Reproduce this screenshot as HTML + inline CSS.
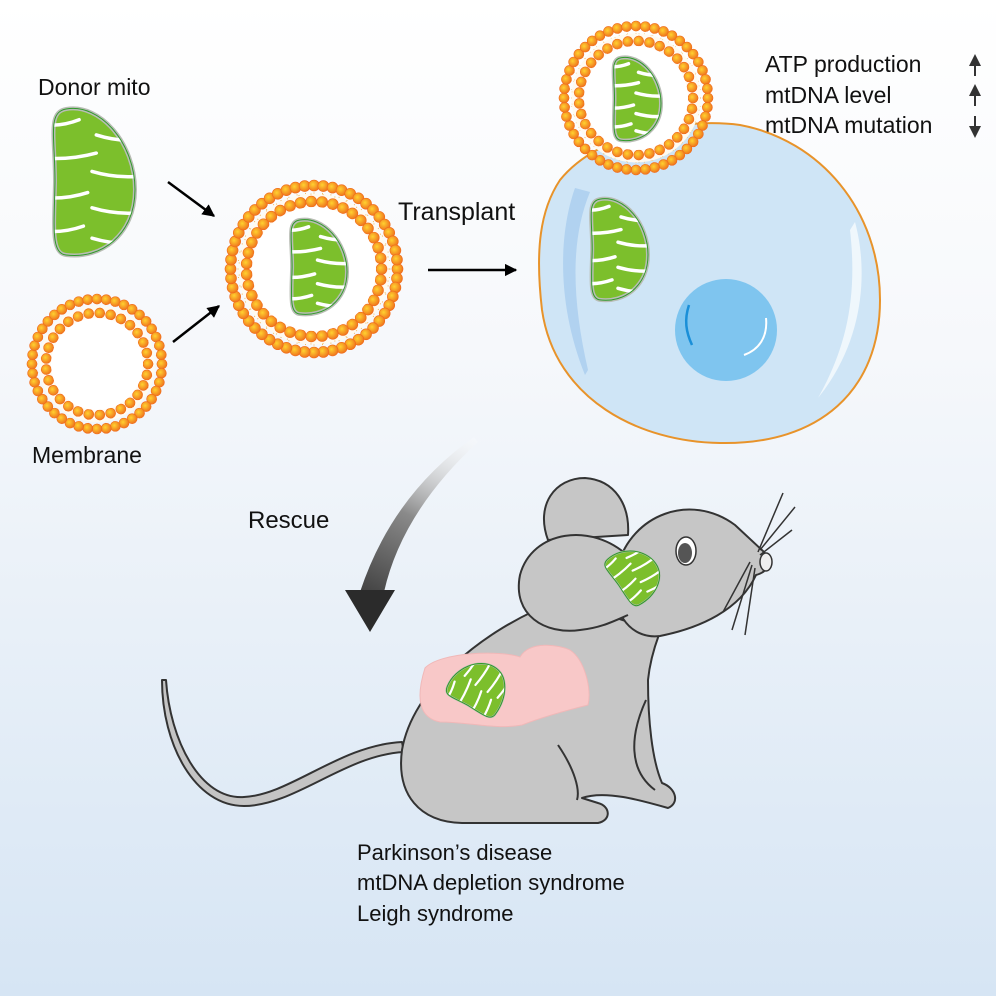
<!DOCTYPE html>
<html><head><meta charset="utf-8"><style>
html,body{margin:0;padding:0;width:996px;height:996px;overflow:hidden}
svg{display:block}
text{font-family:"Liberation Sans",Arial,sans-serif;fill:#111}
</style></head><body>
<svg id="s" width="996" height="996" viewBox="0 0 996 996" xmlns="http://www.w3.org/2000/svg">
<defs id="defs">
<linearGradient id="bg" x1="0" y1="0" x2="0" y2="1">
<stop offset="0" stop-color="#ffffff"/><stop offset="0.35" stop-color="#f6f8fb"/><stop offset="1" stop-color="#d6e5f4"/>
</linearGradient>
<linearGradient id="arr" gradientUnits="userSpaceOnUse" x1="470" y1="436" x2="370" y2="630">
<stop offset="0" stop-color="#ffffff" stop-opacity="0.2"/><stop offset="0.45" stop-color="#8a8a8a"/><stop offset="1" stop-color="#2a2a2a"/>
</linearGradient>
<radialGradient id="bead" cx="0.4" cy="0.4" r="0.6">
<stop offset="0" stop-color="#ffd230"/><stop offset="1" stop-color="#f0771e"/>
</radialGradient>
<marker id="ah" viewBox="0 0 10 10" refX="9" refY="5" markerWidth="5" markerHeight="5" orient="auto"><path d="M0,0 L10,5 L0,10 z" fill="#000"/></marker>
</defs>
<rect width="996" height="996" fill="url(#bg)"/>

<text x="38" y="95" font-size="23">Donor mito</text>
<text x="32" y="463" font-size="23">Membrane</text>
<text x="398" y="220" font-size="25">Transplant</text>
<text x="248" y="528" font-size="24">Rescue</text>
<text x="765" y="72" font-size="23">ATP production</text>
<text x="765" y="103" font-size="23">mtDNA level</text>
<text x="765" y="133" font-size="23">mtDNA mutation</text>
<g fill="#333" stroke="#333">
<line x1="975" y1="62" x2="975" y2="76" stroke-width="2"/><path d="M969,66 L975,54 L981,66 z" stroke="none"/>
<line x1="975" y1="92" x2="975" y2="106" stroke-width="2"/><path d="M969,96 L975,84 L981,96 z" stroke="none"/>
<line x1="975" y1="116" x2="975" y2="130" stroke-width="2"/><path d="M969,126 L975,138 L981,126 z" stroke="none"/>
</g>
<text x="357" y="860" font-size="22">Parkinson’s disease</text>
<text x="357" y="890" font-size="22">mtDNA depletion syndrome</text>
<text x="357" y="921" font-size="22">Leigh syndrome</text>

<g stroke="#000" stroke-width="2.5" marker-end="url(#ah)">
<line x1="168" y1="182" x2="214" y2="216"/>
<line x1="173" y1="342" x2="219" y2="306"/>
<line x1="428" y1="270" x2="516" y2="270"/>
</g>

<path d="M560,180 C600,130 690,118 740,125 C820,140 880,210 880,300 C880,390 820,445 720,443 C640,442 555,400 542,310 C535,250 540,210 560,180 Z" fill="#cfe5f6" stroke="#e8932a" stroke-width="2"/>
<path d="M575,188 C560,230 555,300 585,375 L588,370 C572,300 570,240 590,192 Z" fill="#a9cdef" opacity="0.8"/>
<path d="M855,222 C868,270 865,340 818,398 C845,350 858,300 850,230 Z" fill="#f2f8fd" opacity="0.9"/>
<circle cx="726" cy="330" r="51" fill="#7fc5ef"/>
<path d="M689,305 C684,320 686,332 692,345" stroke="#1a8fd8" stroke-width="2.5" fill="none"/>
<path d="M766,318 C768,338 758,350 744,355" stroke="#fff" stroke-width="2" fill="none"/>

<g id="dyn"></g>

<path d="M474,437 Q392,495 360,592 L384,592 Q402,512 478,442 Z" fill="url(#arr)"/>
<path d="M345,590 L395,590 L370,632 Z" fill="#2b2b2b"/>

<g stroke="#333" stroke-width="2" stroke-linejoin="round">
<path d="M166,680 C170,740 200,800 244,797 C290,795 340,745 402,742 L404,752 C345,755 295,806 244,806 C195,806 162,745 162,680 Z" fill="#c4c4c4"/>
<path d="M560,600 C480,630 412,690 402,750 C396,795 420,822 462,823 L598,823 C612,820 610,806 598,803 L582,798 C605,790 640,800 668,808 C680,803 676,788 662,783 C652,760 648,720 648,680 C650,660 655,645 660,632 Z" fill="#c6c6c6"/>
<path d="M548,540 C535,505 555,478 585,478 C615,480 630,505 628,535 Z" fill="#c6c6c6"/>
<path d="M618,565 C632,515 690,492 735,525 L764,552 C772,562 768,572 756,575 C740,610 700,628 660,636 C630,640 606,610 618,565 Z" fill="#c6c6c6"/>
<path d="M628,556 C592,522 532,530 520,575 C512,615 545,635 580,630 C600,628 612,622 628,615" fill="#c6c6c6"/>
<ellipse cx="686" cy="551" rx="10" ry="14" fill="#fff" stroke-width="1.5"/>
<ellipse cx="685" cy="553" rx="7" ry="10" fill="#555" stroke="none"/>
<ellipse cx="766" cy="562" rx="6" ry="9" fill="#eee" stroke-width="1.5"/>
<path d="M558,745 C575,770 580,790 577,800" fill="none"/>
<path d="M646,700 C630,735 628,770 655,790" fill="none"/>
</g>
<g stroke="#333" stroke-width="1.5" fill="none">
<path d="M758,552 L783,493"/><path d="M760,550 L795,507"/><path d="M760,555 L792,530"/>
<path d="M752,565 L732,630"/><path d="M755,568 L745,635"/><path d="M750,562 L723,612"/>
</g>
<path d="M425,668 C440,652 500,650 520,657 C530,640 560,645 570,650 C585,660 592,690 588,705 C560,712 540,718 522,725 C495,730 470,722 440,722 C420,718 415,700 425,668 Z" fill="#f8c8c8" stroke="#f0b8b8" stroke-width="1"/>
<g id="dyn2"></g>
</svg>
<script>
var NS="http://www.w3.org/2000/svg",g=document.getElementById("dyn"),defs=document.getElementById("defs"),cid=0;
function el(t,a,p){var e=document.createElementNS(NS,t);for(var k in a)e.setAttribute(k,a[k]);(p||g).appendChild(e);return e;}
function membrane(cx,cy,R,r,b){
 var grp=el("g",{});
 el("circle",{cx:cx,cy:cy,r:(R+r)/2,fill:"#fffaf0",stroke:"none"},grp);
 var n=Math.round(2*Math.PI*R/10),m=Math.round(2*Math.PI*r/10);
 [[n,R-b],[m,r+b]].forEach(function(q){for(var i=0;i<q[0];i++){var a=2*Math.PI*i/q[0];
   el("line",{x1:cx+q[1]*Math.cos(a),y1:cy+q[1]*Math.sin(a),x2:cx+((R+r)/2)*Math.cos(a),y2:cy+((R+r)/2)*Math.sin(a),stroke:"#f2b75a","stroke-width":1,"stroke-dasharray":"2 1.5"},grp);}});
 [[n,R-b],[m,r+b]].forEach(function(q){for(var i=0;i<q[0];i++){var a=2*Math.PI*i/q[0];
   el("circle",{cx:cx+q[1]*Math.cos(a),cy:cy+q[1]*Math.sin(a),r:b,fill:"url(#bead)",stroke:"#f06a1c","stroke-width":0.6},grp);}});
 el("circle",{cx:cx,cy:cy,r:r,fill:"#fff"},grp);
}
function mito(x,y,w,h,rot,simple,par){
 var grp=el("g",{transform:"translate("+x+","+y+") rotate("+(rot||0)+","+w/2+","+h/2+")"},par);
 function P(px,py){return (px*w).toFixed(1)+","+(py*h).toFixed(1);}
 var d="M"+P(.2,.02)+" C"+P(.6,-.02)+" "+P(1,.25)+" "+P(1,.55)+" C"+P(1,.85)+" "+P(.6,1.01)+" "+P(.2,.98)+" C"+P(.02,.97)+" "+P(.06,.8)+" "+P(.07,.5)+" C"+P(.07,.2)+" "+P(-.02,.04)+" "+P(.2,.02)+"Z";
 var id="mc"+(cid++);
 var cp=el("clipPath",{id:id},defs);el("path",{d:d},cp);
 el("path",{d:d,fill:"#7cbf2c",stroke:"#b9bdb5","stroke-width":simple?2:4},grp);
 var cg=el("g",{"clip-path":"url(#"+id+")"},grp);
 var cr=[[0,.12,.35],[1,.22,.45],[0,.34,.55],[1,.46,.5],[0,.6,.45],[1,.7,.5],[0,.82,.4],[1,.9,.5]];
 cr.forEach(function(c){var yy=c[1],x1,x2;
   if(c[0]==0){x1=-.1;x2=c[2];}else{x1=1.1;x2=1-c[2];}
   el("path",{d:"M"+P(x1,yy)+" Q"+P((x1+x2)/2,yy+.02)+" "+P(x2,yy-.03),fill:"none",stroke:"#fff","stroke-width":simple?2.2:3.5,"stroke-linecap":"round"},cg);});
 el("path",{d:d,fill:"none",stroke:"#2f9a2a","stroke-width":1},grp);
}
mito(49,106,86,152,0);
membrane(97,364,70,46,5);
membrane(314,269,89,62,5.5);
mito(288,218,59,98,0);
membrane(636,98,77,52,5);
mito(611,56,50,86,0);
mito(588,197,60,105,0);
var g2=document.getElementById("dyn2");
mito(612,545,46,58,-35,true,g2);
mito(454,658,50,58,-60,true,g2);
</script>
</body></html>
